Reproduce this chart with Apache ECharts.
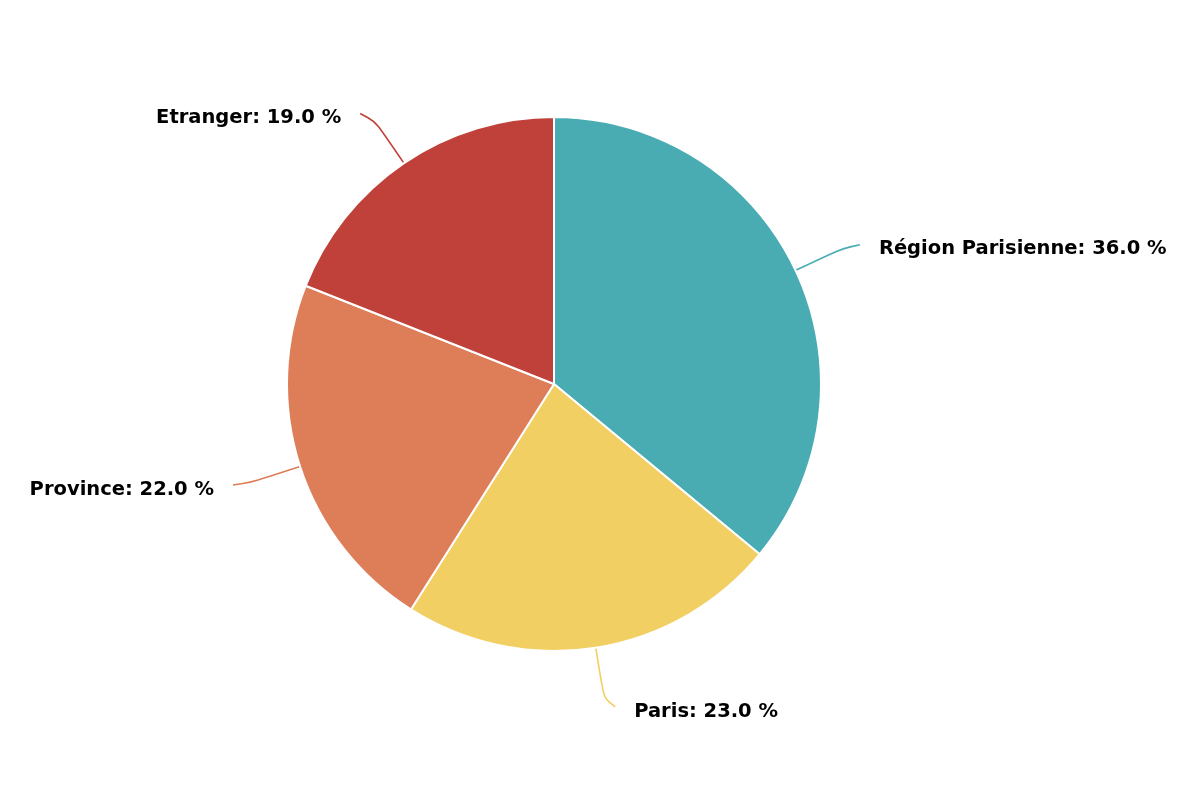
<!DOCTYPE html>
<html>
<head>
<meta charset="utf-8">
<script src="https://cdn.jsdelivr.net/npm/echarts@6/dist/echarts.min.js"></script>
<style>html,body{margin:0;padding:0;background:#fff}#c{width:1200px;height:800px}</style>
</head>
<body>
<div id="c"></div>
<script>
const categories = ['Région Parisienne', 'Paris', 'Province', 'Etranger'];
const values = [36.0, 23.0, 22.0, 19.0];
const colors = ['#48ACB2', '#F2CF63', '#DE7E59', '#C0403A'];

const chart = echarts.init(document.getElementById('c'), null, {renderer: 'canvas'});
chart.setOption({
  animation: false,
  backgroundColor: '#ffffff',
  series: [{
    type: 'pie',
    center: [554, 384],
    radius: 267,
    startAngle: 90,
    clockwise: true,
    data: categories.map((c, i) => ({name: c, value: values[i], itemStyle: {color: colors[i]}})),
    itemStyle: {borderColor: '#ffffff', borderWidth: 2},
    label: {
      show: true,
      formatter: p => '{a|' + p.name + ': ' + p.value.toFixed(1) + ' %}',
      rich: {
        a: {
          fontFamily: 'DejaVu Sans',
          fontWeight: 'bold',
          fontSize: 19.5,
          color: '#000',
          padding: [9, 0, 0, 0]
        }
      },
      distanceToLabelLine: 19
    },
    labelLine: {
      show: true,
      length: 60,
      length2: 10,
      smooth: 1,
      lineStyle: {width: 1.6}
    },
    emphasis: {disabled: true}
  }]
});
</script>
</body>
</html>
